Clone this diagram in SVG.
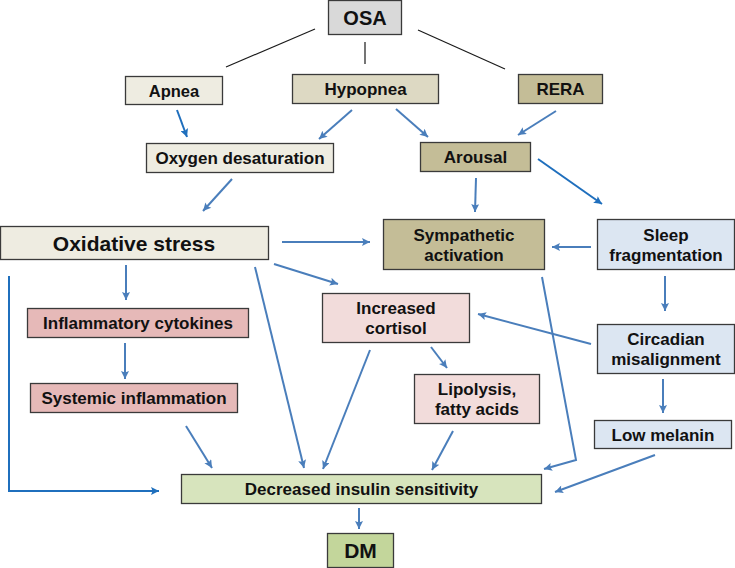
<svg xmlns="http://www.w3.org/2000/svg" width="735" height="568" viewBox="0 0 735 568">
<defs>
<style>
.box{stroke:#3a3a3a;stroke-width:1.3}
.t{font-family:"Liberation Sans",Arial,sans-serif;font-weight:bold;font-size:17px;fill:#111;text-anchor:middle}
.k{stroke:#1a1a1a;stroke-width:1.2;fill:none}
.a{stroke:#4a7ebb;stroke-width:2;fill:none;marker-end:url(#ah)}
.b{stroke:#1f6fbd;stroke-width:2;fill:none;marker-end:url(#ahb)}
</style>
<marker id="ah" markerUnits="userSpaceOnUse" viewBox="0 0 10 10" markerWidth="9" markerHeight="8" refX="10" refY="5" orient="auto"><path d="M0,0 L10,5 L0,10 L2,5 z" fill="#4a7ebb"/></marker>
<marker id="ahb" markerUnits="userSpaceOnUse" viewBox="0 0 10 10" markerWidth="9" markerHeight="8" refX="10" refY="5" orient="auto"><path d="M0,0 L10,5 L0,10 L2,5 z" fill="#1f6fbd"/></marker>
</defs>
<rect width="735" height="568" fill="#fff"/>
<g id="connectors">
<line class="k" x1="315" y1="29" x2="226" y2="67"/>
<line class="k" x1="365" y1="42" x2="365" y2="64"/>
<line class="k" x1="418" y1="30" x2="505" y2="69"/>
<line class="b" x1="177" y1="110" x2="187" y2="137"/>
<line class="a" x1="352" y1="110" x2="319" y2="139"/>
<line class="a" x1="396" y1="109" x2="428" y2="137"/>
<line class="a" x1="556" y1="111" x2="518" y2="135"/>
<line class="a" x1="232" y1="179" x2="203" y2="211"/>
<line class="a" x1="476" y1="178" x2="475" y2="212"/>
<line class="b" x1="538" y1="159" x2="602" y2="204"/>
<line class="a" x1="282" y1="242" x2="370" y2="242"/>
<line class="a" x1="591" y1="247" x2="552" y2="247"/>
<line class="a" x1="274" y1="264" x2="338" y2="284"/>
<line class="a" x1="126" y1="265" x2="126" y2="300"/>
<line class="a" x1="255" y1="267" x2="304" y2="468"/>
<polyline class="b" points="9,276 9,491 159,491"/>
<line class="a" x1="125" y1="343" x2="125" y2="379"/>
<line class="a" x1="186" y1="426" x2="212" y2="468"/>
<line class="a" x1="370" y1="350" x2="323" y2="469"/>
<line class="a" x1="431" y1="347" x2="447" y2="368"/>
<line class="a" x1="453" y1="431" x2="432" y2="470"/>
<line class="a" x1="591" y1="344" x2="478" y2="314"/>
<line class="a" x1="665" y1="276" x2="665" y2="311"/>
<polyline class="a" points="542,277 576,460 544,469"/>
<line class="a" x1="663" y1="379" x2="663" y2="413"/>
<line class="a" x1="655" y1="455" x2="555" y2="492"/>
<line class="a" x1="359" y1="508" x2="359" y2="529"/>
</g>
<g id="osa"><rect class="box" x="328.5" y="0.5" width="73" height="34" fill="#d9d9d9"/><text class="t" x="365" y="24.5" style="font-size:20px">OSA</text></g>
<g id="apnea"><rect class="box" x="125.5" y="76.5" width="97" height="28" fill="#eeece1"/><text class="t" x="174" y="96.5" style="font-size:16.5px">Apnea</text></g>
<g id="hypopnea"><rect class="box" x="292.5" y="74.5" width="146" height="29" fill="#ddd9c3"/><text class="t" x="365.5" y="95">Hypopnea</text></g>
<g id="rera"><rect class="box" x="518.5" y="74.5" width="84" height="29" fill="#c4bd97"/><text class="t" x="560.5" y="95">RERA</text></g>
<g id="oxygen"><rect class="box" x="146.5" y="143.5" width="187" height="29" fill="#eeece1"/><text class="t" x="240" y="164">Oxygen desaturation</text></g>
<g id="arousal"><rect class="box" x="420.5" y="142.5" width="110" height="29" fill="#c4bd97"/><text class="t" x="475.5" y="163">Arousal</text></g>
<g id="oxidative"><rect class="box" x="0.5" y="226.5" width="268" height="33" fill="#eeece1"/><text class="t" x="134" y="250.5" style="font-size:21px">Oxidative stress</text></g>
<g id="sympathetic"><rect class="box" x="383.5" y="219.5" width="161" height="50" fill="#c4bd97"/><text class="t" x="464" y="240.5">Sympathetic</text><text class="t" x="464" y="260.5">activation</text></g>
<g id="sleep"><rect class="box" x="597.5" y="219.5" width="137" height="50" fill="#dce6f2"/><text class="t" x="666" y="240.5">Sleep</text><text class="t" x="666" y="260.5">fragmentation</text></g>
<g id="inflammatory"><rect class="box" x="27.5" y="308.5" width="221" height="29" fill="#e6b9b8"/><text class="t" x="138" y="329">Inflammatory cytokines</text></g>
<g id="cortisol"><rect class="box" x="322.5" y="293.5" width="147" height="49" fill="#f2dcdb"/><text class="t" x="396" y="314">Increased</text><text class="t" x="396" y="334">cortisol</text></g>
<g id="circadian"><rect class="box" x="597.5" y="324.5" width="137" height="49" fill="#dce6f2"/><text class="t" x="666" y="345">Circadian</text><text class="t" x="666" y="365">misalignment</text></g>
<g id="systemic"><rect class="box" x="30.5" y="383.5" width="207" height="29" fill="#e6b9b8"/><text class="t" x="134" y="404">Systemic inflammation</text></g>
<g id="lipolysis"><rect class="box" x="414.5" y="374.5" width="125" height="49" fill="#f2dcdb"/><text class="t" x="477" y="395">Lipolysis,</text><text class="t" x="477" y="415">fatty acids</text></g>
<g id="melanin"><rect class="box" x="594.5" y="420.5" width="137" height="28" fill="#dce6f2"/><text class="t" x="663" y="440.5">Low melanin</text></g>
<g id="decreased"><rect class="box" x="181.5" y="474.5" width="360" height="29" fill="#d7e4bd"/><text class="t" x="361.5" y="495">Decreased insulin sensitivity</text></g>
<g id="dm"><rect class="box" x="327.5" y="533.5" width="66" height="34" fill="#c3d69b"/><text class="t" x="360.5" y="558" style="font-size:21px">DM</text></g>
</svg>
